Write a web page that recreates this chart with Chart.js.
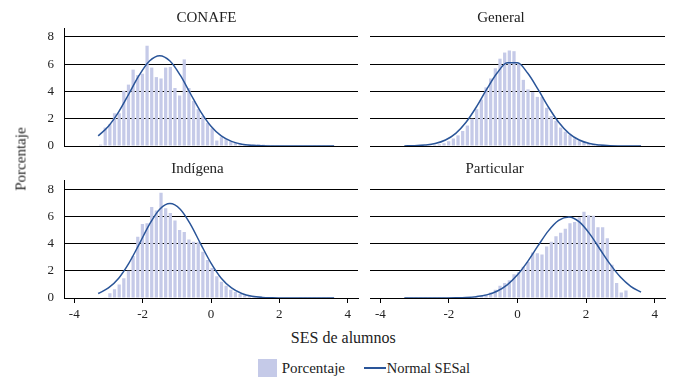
<!DOCTYPE html>
<html>
<head>
<meta charset="utf-8">
<script src="https://cdn.jsdelivr.net/npm/chart.js@4.4.0/dist/chart.umd.min.js"></script>
<style>
  body { margin: 0; background: #fff; }
  #wrap { position: relative; width: 675px; height: 386px; font-family: "Liberation Serif", serif; color: #222; }
  canvas { position: absolute; }
  .lbl { position: absolute; white-space: nowrap; line-height: 15px; transform: translate(-50%, -50%); }
</style>
</head>
<body>
<div id="wrap">
  <canvas id="c_conafe" width="362" height="180" style="left:0;top:0"></canvas>
  <canvas id="c_general" width="313" height="180" style="left:362px;top:0"></canvas>
  <canvas id="c_indigena" width="362" height="172" style="left:0;top:150px"></canvas>
  <canvas id="c_particular" width="313" height="172" style="left:362px;top:150px"></canvas>

  <div class="lbl" style="left:206.5px;top:17px;font-size:15px">CONAFE</div>
  <div class="lbl" style="left:501px;top:17px;font-size:15px">General</div>
  <div class="lbl" style="left:197.5px;top:168px;font-size:15px">Indígena</div>
  <div class="lbl" style="left:494.7px;top:168px;font-size:15px">Particular</div>
  <div class="lbl" style="left:20.5px;top:159px;font-size:15px;transform:translate(-50%,-50%) rotate(-90deg)">Porcentaje</div>
  <div class="lbl" style="left:343.3px;top:337px;font-size:16px">SES de alumnos</div>

  <div style="position:absolute;left:258px;top:359px;width:19px;height:18px;background:#c5cae8"></div>
  <div class="lbl" style="left:281.7px;top:368px;font-size:15px;transform:translate(0,-50%)">Porcentaje</div>
  <div style="position:absolute;left:364px;top:367px;width:22px;height:2px;background:#2a5599"></div>
  <div class="lbl" style="left:386.7px;top:368px;font-size:14.5px;transform:translate(0,-50%)">Normal SESal</div>
</div>

<script>
// histogram bin centres (SES de alumnos)
const binCenters = [-3.230, -3.094, -2.958, -2.822, -2.686, -2.550, -2.414, -2.278, -2.142, -2.006,
  -1.870, -1.734, -1.598, -1.462, -1.326, -1.190, -1.054, -0.918, -0.782, -0.646,
  -0.510, -0.374, -0.238, -0.102, 0.034, 0.170, 0.306, 0.442, 0.578, 0.714,
  0.850, 0.986, 1.122, 1.258, 1.394, 1.530, 1.666, 1.802, 1.938, 2.074,
  2.210, 2.346, 2.482, 2.618, 2.754, 2.890, 3.026, 3.162, 3.298, 3.434, 3.570];

// porcentaje per bin
const conafeBars = [0.1, 1.35, 1.6, 2.4, 2.4, 4.05, 4.5, 5.6, 5.2, 5.3,
  7.35, 5.75, 5.05, 4.95, 5.75, 5.8, 4.25, 3.7, 6.35, 4.25,
  3.3, 2.7, 2.2, 1.7, 1.3, 0.4, 0.65, 0.5, 0.35, 0.25,
  0.2, 0.15, 0.12, 0.1, 0.12, 0.1, 0.08, 0.06, 0.05, 0.05,
  0.04, 0.04, 0.03, 0.03, 0.03, 0.03, 0.02, 0.02, 0.02, 0.02, 0.02];
const generalBars = [0.02, 0.02, 0.03, 0.03, 0.05, 0.06, 0.09, 0.12, 0.2, 0.35,
  0.55, 0.78, 1.1, 1.5, 2.0, 2.7, 3.4, 4.3, 4.95, 5.7,
  6.4, 6.85, 7.0, 6.95, 6.05, 4.85, 4.15, 3.95, 3.6, 3.6,
  2.8, 2.2, 1.85, 1.35, 1.05, 0.8, 0.55, 0.4, 0.3, 0.22,
  0.15, 0.1, 0.08, 0.06, 0.05, 0.05, 0.04, 0.04, 0.03, 0.03, 0.02];
const indigenaBars = [0, 0.02, 0.35, 0.65, 1.0, 1.45, 2.0, 3.1, 4.5, 5.45,
  5.5, 6.7, 6.45, 7.75, 6.6, 6.25, 5.7, 5.0, 4.85, 4.3,
  4.15, 4.1, 3.4, 2.8, 2.2, 1.6, 1.2, 0.9, 0.6, 0.45,
  0.3, 0.2, 0.15, 0.1, 0.08, 0.06, 0.05, 0.04, 0.04, 0.03,
  0.03, 0.03, 0.03, 0.02, 0.02, 0.02, 0.02, 0.02, 0.02, 0.02, 0.02];
const particularBars = [0.01, 0.01, 0.01, 0.01, 0.01, 0.01, 0.01, 0.01, 0.01, 0.02,
  0.02, 0.02, 0.03, 0.05, 0.08, 0.1, 0.15, 0.25, 0.4, 0.6,
  0.9, 1.1, 1.3, 1.75, 1.9, 2.3, 2.65, 3.35, 3.3, 3.2,
  3.8, 4.15, 4.55, 4.8, 5.1, 5.5, 5.6, 5.95, 6.35, 6.1,
  6.05, 5.2, 5.2, 4.4, 2.45, 1.1, 0.4, 0.55, 0, 0, 0];

// normal curve
const curveX = [-3.3, -3.0, -2.7, -2.4, -2.1, -1.8, -1.5, -1.2, -0.9, -0.6, -0.3, 0,
  0.3, 0.6, 0.9, 1.2, 1.5, 1.8, 2.1, 2.4, 2.7, 3.0, 3.3, 3.6];
const conafeCurve = [0.74, 1.45, 2.50, 3.83, 5.19, 6.23, 6.62, 6.23, 5.19, 3.83, 2.50, 1.45,
  0.74, 0.34, 0.13, 0.05, 0.015, 0, 0, 0, 0, 0, 0, 0];
const generalCurve = [0.006, 0.02, 0.07, 0.18, 0.44, 0.93, 1.74, 2.86, 4.15, 5.33, 6.1, 6.1,
  5.33, 4.15, 2.86, 1.74, 0.93, 0.44, 0.18, 0.07, 0.02, 0.006, 0, 0];
const indigenaCurve = [0.33, 0.74, 1.46, 2.57, 3.97, 5.42, 6.53, 6.95, 6.53, 5.42, 3.97, 2.57,
  1.46, 0.74, 0.33, 0.13, 0.045, 0.014, 0, 0, 0, 0, 0, 0];
const particularCurve = [0, 0, 0, 0.001, 0.004, 0.012, 0.036, 0.10, 0.23, 0.50, 0.97, 1.71,
  2.70, 3.85, 4.94, 5.71, 5.96, 5.60, 4.74, 3.61, 2.49, 1.54, 0.86, 0.43];

const xTicks = [-4, -2, 0, 2, 4];
const yTicks = [0, 2, 4, 6, 8];

const barColor = '#c5cae8';
const lineColor = '#2a5599';
const tickFont = { family: 'Liberation Serif', size: 13 };

function makePanel(id, bars, curve, isLeft, isBottom){
    const ctx = document.getElementById(id).getContext('2d');
    return new Chart(ctx, {
        type: 'bar',
        data: {
            datasets: [{
                type: 'line',
                label: 'Normal SESal',
                data: curveX.map((x, i) => ({ x: x, y: curve[i] })),
                borderColor: lineColor,
                borderWidth: 1.5,
                pointRadius: 0,
                fill: false,
                cubicInterpolationMode: 'monotone',
                order: 0
            }, {
                type: 'bar',
                label: 'Porcentaje',
                data: binCenters.map((x, i) => ({ x: x, y: bars[i] })),
                backgroundColor: barColor,
                barPercentage: 0.7,
                categoryPercentage: 1,
                order: 1
            }]
        },
        options: {
            responsive: false,
            animation: false,
            layout: {
                padding: {
                    left: isLeft ? 0 : 8,
                    right: isLeft ? 4 : 10,
                    top: isBottom ? 30.5 : 28,
                    bottom: isBottom ? 0 : 34
                }
            },
            plugins: { legend: { display: false }, tooltip: { enabled: false } },
            scales: {
                x: {
                    type: 'linear',
                    min: -4.3,
                    max: 4.3,
                    offset: false,
                    display: isBottom,
                    grid: { display: true, drawOnChartArea: false, drawTicks: true, tickLength: 5, color: '#000', offset: false },
                    border: { display: true, color: '#000' },
                    afterBuildTicks: s => { s.ticks = xTicks.map(v => ({ value: v })); },
                    ticks: { font: tickFont, color: '#222', padding: 4, maxRotation: 0, autoSkip: false },
                    afterFit: s => { s.height = isBottom ? 24 : 0; }
                },
                y: {
                    min: 0,
                    max: 8.65,
                    grid: { color: '#000', lineWidth: 1, drawTicks: false },
                    border: { display: isLeft, color: '#000' },
                    afterBuildTicks: s => { s.ticks = yTicks.map(v => ({ value: v })); },
                    ticks: { display: isLeft, font: tickFont, color: '#222', padding: 10 },
                    afterFit: s => { s.width = isLeft ? 64 : 0; }
                }
            }
        }
    });
}

makePanel('c_conafe', conafeBars, conafeCurve, true, false);
makePanel('c_general', generalBars, generalCurve, false, false);
makePanel('c_indigena', indigenaBars, indigenaCurve, true, true);
makePanel('c_particular', particularBars, particularCurve, false, true);
</script>
</body>
</html>
